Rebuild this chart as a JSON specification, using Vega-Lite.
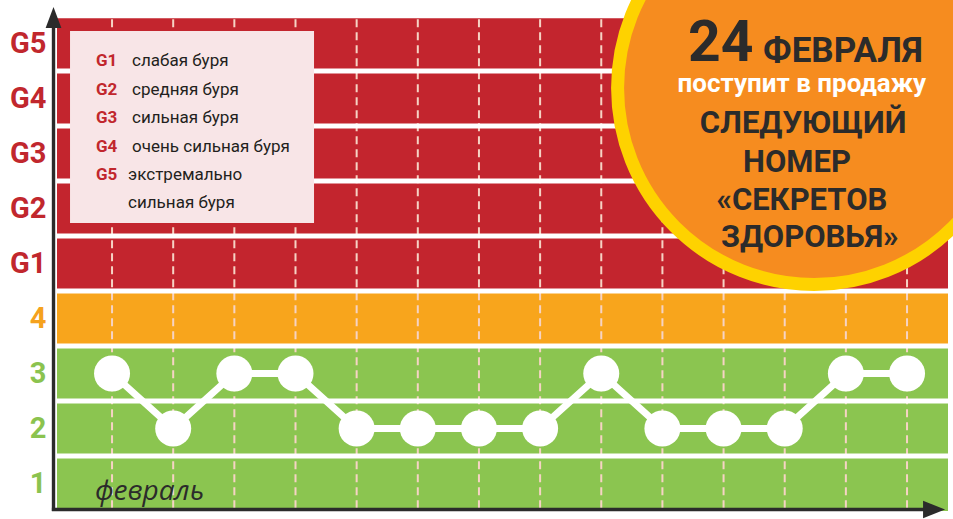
{
  "$schema": "https://vega.github.io/schema/vega-lite/v6.json",
  "width": 891,
  "height": 495,
  "autosize": {"type": "none"},
  "padding": {"left": 57, "top": 16, "right": 5, "bottom": 8},
  "background": "white",
  "config": {"view": {"stroke": null}},
  "datasets": {
    "bands": [
      {"level": 1, "lo": 0.5, "hi": 1.5, "zone": "green"},
      {"level": 2, "lo": 1.5, "hi": 2.5, "zone": "green"},
      {"level": 3, "lo": 2.5, "hi": 3.5, "zone": "green"},
      {"level": 4, "lo": 3.5, "hi": 4.5, "zone": "orange"},
      {"level": 5, "lo": 4.5, "hi": 5.5, "zone": "red"},
      {"level": 6, "lo": 5.5, "hi": 6.5, "zone": "red"},
      {"level": 7, "lo": 6.5, "hi": 7.5, "zone": "red"},
      {"level": 8, "lo": 7.5, "hi": 8.5, "zone": "red"},
      {"level": 9, "lo": 8.5, "hi": 9.46, "zone": "red"}
    ],
    "forecast": [
      {"day": 0, "kp": 3}, {"day": 1, "kp": 2}, {"day": 2, "kp": 3}, {"day": 3, "kp": 3},
      {"day": 4, "kp": 2}, {"day": 5, "kp": 2}, {"day": 6, "kp": 2}, {"day": 7, "kp": 2},
      {"day": 8, "kp": 3}, {"day": 9, "kp": 2}, {"day": 10, "kp": 2}, {"day": 11, "kp": 2},
      {"day": 12, "kp": 3}, {"day": 13, "kp": 3}
    ],
    "legend": [
      {"code": "G1", "desc": "слабая буря", "y": 8.682, "tx": 0.327},
      {"code": "G2", "desc": "средняя буря", "y": 8.155, "tx": 0.327},
      {"code": "G3", "desc": "сильная буря", "y": 7.645, "tx": 0.327},
      {"code": "G4", "desc": "очень сильная буря", "y": 7.118, "tx": 0.327},
      {"code": "G5", "desc": "экстремально", "y": 6.609, "tx": 0.262},
      {"code": "", "desc": "сильная буря", "y": 6.1, "tx": 0.262}
    ],
    "promo": [
      {"text": "СЛЕДУЮЩИЙ", "x": 11.3, "y": 7.373},
      {"text": "НОМЕР", "x": 11.2, "y": 6.664},
      {"text": "«СЕКРЕТОВ", "x": 11.28, "y": 5.973},
      {"text": "ЗДОРОВЬЯ»", "x": 11.41, "y": 5.3}
    ]
  },
  "layer": [
    {
      "data": {"name": "bands"},
      "mark": {"type": "rect"},
      "encoding": {
        "y": {
          "field": "lo", "type": "quantitative",
          "scale": {"domain": [0.5, 9.5], "nice": false, "zero": false},
          "axis": {
            "values": [1, 2, 3, 4, 5, 6, 7, 8, 9],
            "labelExpr": "datum.value <= 4 ? '' + datum.value : 'G' + (datum.value - 4)",
            "domain": false, "ticks": false, "grid": false, "title": null,
            "labelFont": "Roboto", "labelFontSize": 29, "labelFontWeight": "bold",
            "labelPadding": 11,
            "labelColor": {"condition": [{"test": "datum.value == 4", "value": "#F5A21E"}, {"test": "datum.value >= 5", "value": "#C1272D"}], "value": "#8BC34F"}
          }
        },
        "y2": {"field": "hi"},
        "color": {"field": "zone", "type": "nominal", "scale": {"domain": ["green", "orange", "red"], "range": ["#8BC550", "#F8A51C", "#C3252E"]}, "legend": null}
      }
    },
    {
      "data": {"name": "forecast"},
      "mark": {"type": "rule", "color": "#F6D3C4", "strokeWidth": 2, "strokeDash": [8, 5]},
      "encoding": {
        "x": {"field": "day", "type": "quantitative", "scale": {"domain": [-0.9, 13.67], "nice": false, "zero": false}, "axis": null},
        "y": {"datum": 0.55, "type": "quantitative"},
        "y2": {"datum": 9.44}
      }
    },
    {
      "data": {"name": "bands"},
      "transform": [{"filter": "datum.hi < 9"}],
      "mark": {"type": "rule", "color": "white", "strokeWidth": 5},
      "encoding": {"y": {"field": "hi", "type": "quantitative"}}
    },
    {
      "data": {"values": [{"x1": -0.687, "x2": 3.303, "y1": 5.736, "y2": 9.227}]},
      "mark": {"type": "rect", "fill": "#F8E5E7"},
      "encoding": {
        "x": {"field": "x1", "type": "quantitative"},
        "x2": {"field": "x2"},
        "y": {"field": "y1", "type": "quantitative"},
        "y2": {"field": "y2"}
      }
    },
    {
      "data": {"name": "legend"},
      "transform": [{"filter": "datum.code != ''"}],
      "mark": {"type": "text", "align": "left", "baseline": "middle", "font": "Roboto", "fontWeight": "bold", "fontSize": 17, "color": "#C1272D"},
      "encoding": {
        "x": {"datum": -0.262, "type": "quantitative"},
        "y": {"field": "y", "type": "quantitative"},
        "text": {"field": "code"}
      }
    },
    {
      "data": {"name": "legend"},
      "mark": {"type": "text", "align": "left", "baseline": "middle", "font": "Roboto", "fontSize": 17, "color": "#231F20"},
      "encoding": {
        "x": {"field": "tx", "type": "quantitative"},
        "y": {"field": "y", "type": "quantitative"},
        "text": {"field": "desc"}
      }
    },
    {
      "data": {"name": "forecast"},
      "mark": {"type": "line", "color": "white", "strokeWidth": 7},
      "encoding": {
        "x": {"field": "day", "type": "quantitative"},
        "y": {"field": "kp", "type": "quantitative"}
      }
    },
    {
      "data": {"name": "forecast"},
      "mark": {"type": "point", "shape": "circle", "filled": true, "color": "white", "opacity": 1, "size": 1296},
      "encoding": {
        "x": {"field": "day", "type": "quantitative"},
        "y": {"field": "kp", "type": "quantitative"}
      }
    },
    {
      "data": {"values": [{"cx": 11.48, "cy": 8.19}]},
      "mark": {"type": "point", "shape": "circle", "size": 154449, "fill": "#F68C1F", "stroke": "#FED200", "strokeWidth": 13, "opacity": 1, "fillOpacity": 1, "strokeOpacity": 1},
      "encoding": {
        "x": {"field": "cx", "type": "quantitative"},
        "y": {"field": "cy", "type": "quantitative"}
      }
    },
    {
      "data": {"values": [{"t": "24"}]},
      "mark": {"type": "text", "align": "left", "baseline": "alphabetic", "font": "Roboto", "fontWeight": "bold", "fontSize": 57, "color": "#2B2B2B"},
      "encoding": {
        "x": {"datum": 9.419, "type": "quantitative"},
        "y": {"datum": 8.682, "type": "quantitative"},
        "text": {"field": "t"}
      }
    },
    {
      "data": {"values": [{"t": "ФЕВРАЛЯ"}]},
      "mark": {"type": "text", "align": "left", "baseline": "alphabetic", "font": "Roboto", "fontWeight": "bold", "fontSize": 35, "color": "#2B2B2B"},
      "encoding": {
        "x": {"datum": 10.646, "type": "quantitative"},
        "y": {"datum": 8.664, "type": "quantitative"},
        "text": {"field": "t"}
      }
    },
    {
      "data": {"values": [{"t": "поступит в продажу"}]},
      "mark": {"type": "text", "align": "center", "baseline": "alphabetic", "font": "Roboto", "fontWeight": "bold", "fontSize": 26, "color": "white"},
      "encoding": {
        "x": {"datum": 11.28, "type": "quantitative"},
        "y": {"datum": 8.118, "type": "quantitative"},
        "text": {"field": "t"}
      }
    },
    {
      "data": {"name": "promo"},
      "mark": {"type": "text", "align": "center", "baseline": "alphabetic", "font": "Roboto", "fontWeight": "bold", "fontSize": 31, "color": "#2B2B2B"},
      "encoding": {
        "x": {"field": "x", "type": "quantitative"},
        "y": {"field": "y", "type": "quantitative"},
        "text": {"field": "text"}
      }
    },
    {
      "data": {"values": [{}]},
      "mark": {"type": "rule", "color": "#2B2B2B", "strokeWidth": 3.4},
      "encoding": {
        "x": {"datum": -0.957, "type": "quantitative"},
        "y": {"datum": 0.5, "type": "quantitative"},
        "y2": {"datum": 9.45}
      }
    },
    {
      "data": {"values": [{}]},
      "mark": {"type": "rule", "color": "#2B2B2B", "strokeWidth": 3.4},
      "encoding": {
        "x": {"datum": -0.984, "type": "quantitative"},
        "x2": {"datum": 13.3},
        "y": {"datum": 0.527, "type": "quantitative"}
      }
    },
    {
      "data": {"values": [{}]},
      "mark": {"type": "point", "shape": "M0,-1L0.75,1L-0.75,1Z", "size": 441, "filled": true, "color": "#2B2B2B", "opacity": 1},
      "encoding": {
        "x": {"datum": -0.957, "type": "quantitative"},
        "y": {"datum": 9.473, "type": "quantitative"}
      }
    },
    {
      "data": {"values": [{}]},
      "mark": {"type": "point", "shape": "M1,0L-1,-0.8L-1,0.8Z", "size": 484, "filled": true, "color": "#2B2B2B", "opacity": 1},
      "encoding": {
        "x": {"datum": 13.442, "type": "quantitative"},
        "y": {"datum": 0.527, "type": "quantitative"}
      }
    },
    {
      "data": {"values": [{"t": "февраль"}]},
      "mark": {"type": "text", "align": "left", "baseline": "alphabetic", "font": "Open Sans", "fontStyle": "italic", "fontSize": 28, "color": "#2B2B2B"},
      "encoding": {
        "x": {"datum": -0.278, "type": "quantitative"},
        "y": {"datum": 0.7, "type": "quantitative"},
        "text": {"field": "t"}
      }
    }
  ]
}
